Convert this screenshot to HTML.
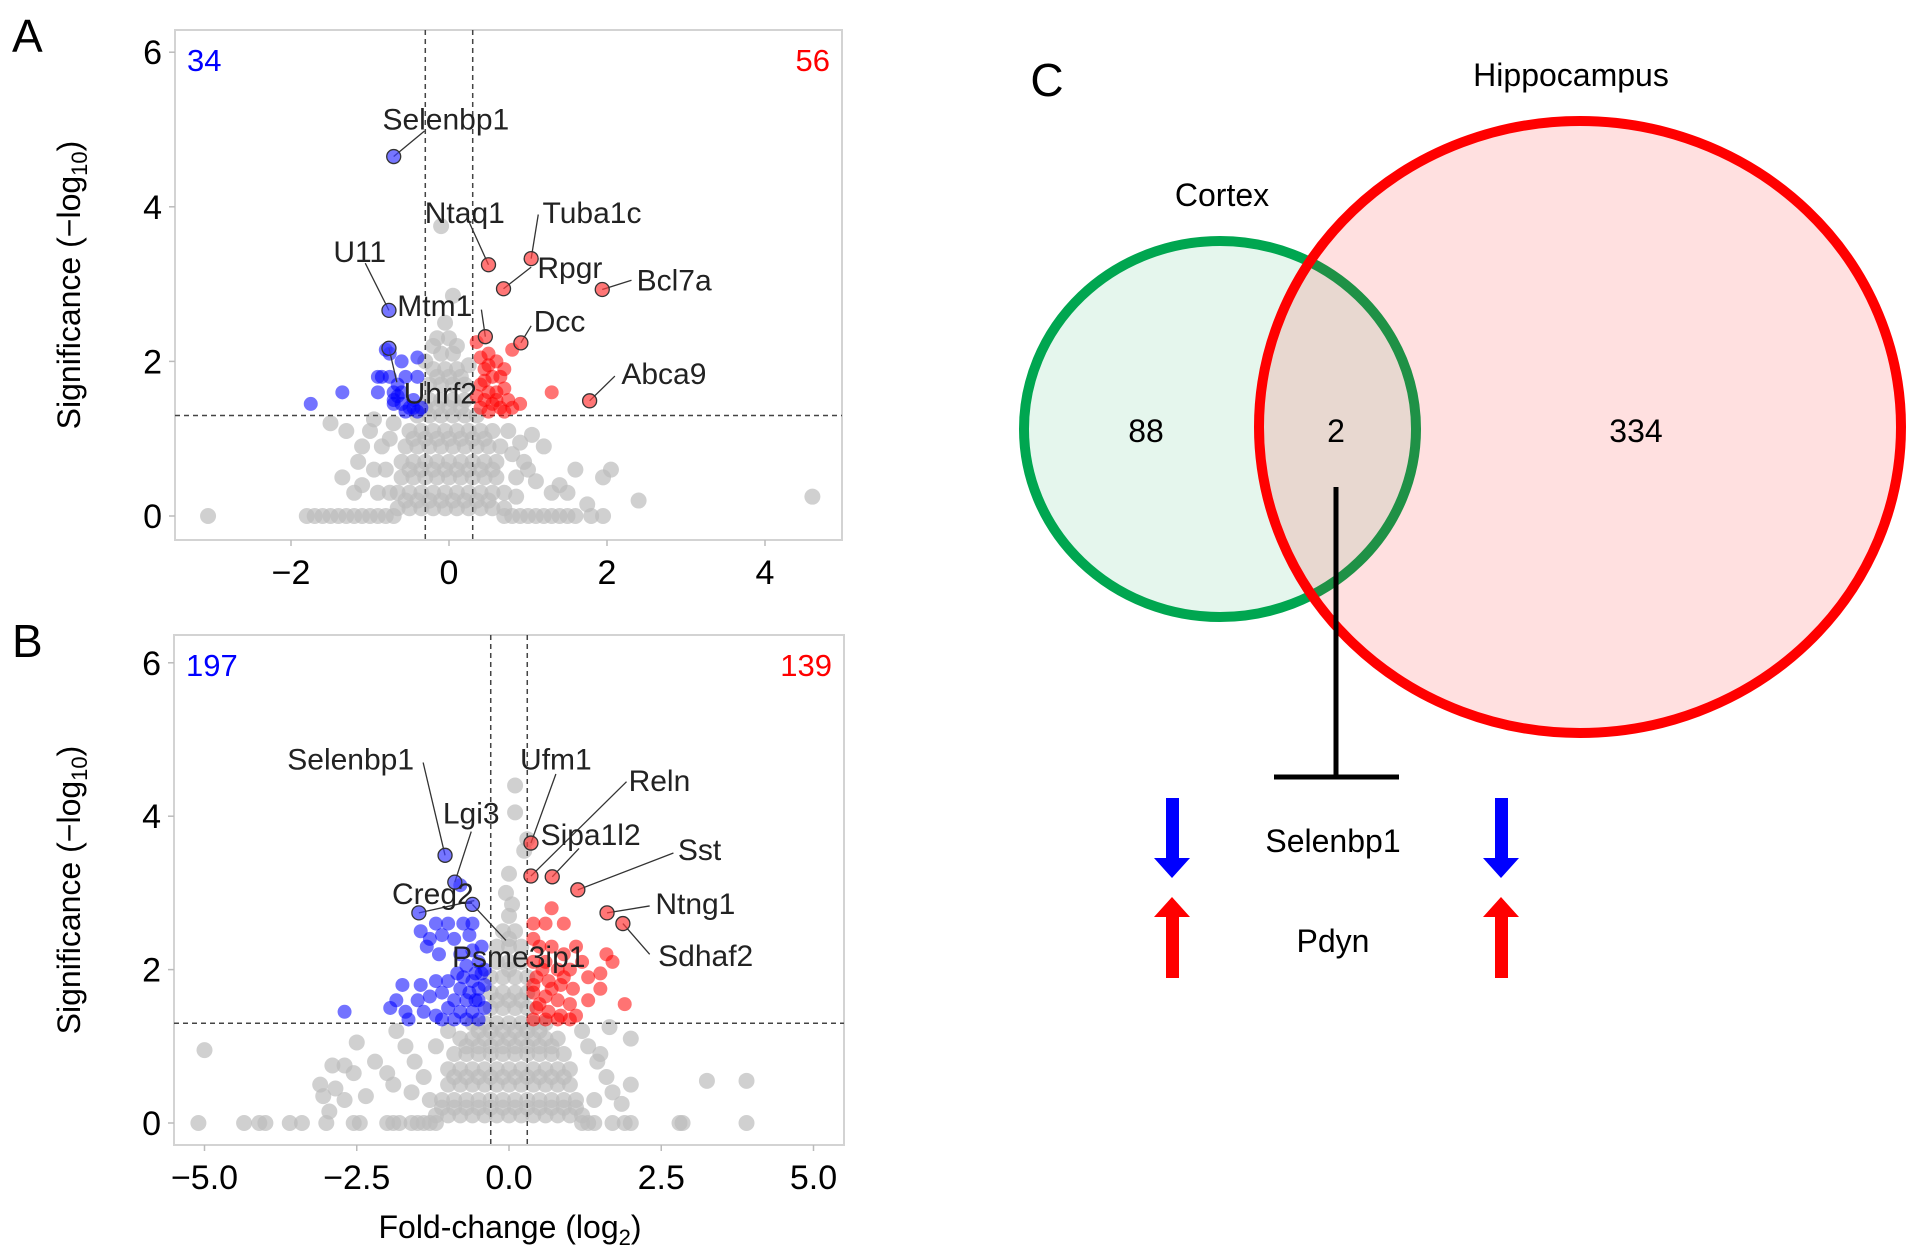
<!DOCTYPE html>
<html><head><meta charset="utf-8"><style>
html,body{margin:0;padding:0;background:#fff;}
svg{display:block;font-family:"Liberation Sans",Arial,sans-serif;}
</style></head><body>
<svg id="fig" width="1914" height="1255" viewBox="0 0 1914 1255" xmlns="http://www.w3.org/2000/svg">
<g id="panelA"></g>
<g id="panelB"></g>
<g id="venn">
  <text x="1047" y="96" font-size="46" text-anchor="middle">C</text>
  <text x="1571" y="86" font-size="32" text-anchor="middle">Hippocampus</text>
  <text x="1222" y="206" font-size="32" text-anchor="middle">Cortex</text>
  <ellipse cx="1220" cy="429" rx="196" ry="188" fill="rgba(0,170,80,0.1)" stroke="#00a650" stroke-width="10"/>
  <ellipse cx="1580" cy="427" rx="321" ry="306" fill="rgba(255,0,0,0.12)" stroke="#ff0000" stroke-width="10"/>
  <text x="1146" y="442" font-size="32" text-anchor="middle">88</text>
  <text x="1336" y="442" font-size="32" text-anchor="middle">2</text>
  <text x="1636" y="442" font-size="32" text-anchor="middle">334</text>
  <line x1="1336" y1="487" x2="1336" y2="779" stroke="#000" stroke-width="5"/>
  <line x1="1274" y1="777" x2="1399" y2="777" stroke="#000" stroke-width="5"/>
  <text x="1333" y="852" font-size="32" text-anchor="middle">Selenbp1</text>
  <text x="1333" y="952" font-size="32" text-anchor="middle">Pdyn</text>
  <polygon points="1166,798 1179,798 1179,858 1190,858 1172,878 1154,858 1166,858" fill="#0000ff"/>
  <polygon points="1495,798 1508,798 1508,858 1519,858 1501,878 1483,858 1495,858" fill="#0000ff"/>
  <polygon points="1166,978 1179,978 1179,917 1190,917 1172,897 1154,917 1166,917" fill="#ff0000"/>
  <polygon points="1495,978 1508,978 1508,917 1519,917 1501,897 1483,917 1495,917" fill="#ff0000"/>
</g>
</svg>
<script>
// ===== Panel A data =====
const aXTicks = [-2, 0, 2, 4];
const aXTickLabels = ["\u22122", "0", "2", "4"];
const aYTicks = [0, 2, 4, 6];
const aYTickLabels = ["0", "2", "4", "6"];
const aDownCount = "34";
const aUpCount = "56";
const aBlue = [[-0.8,2.15],[-0.75,2.1],[-0.6,2.0],[-0.4,2.05],[-0.9,1.8],[-0.85,1.8],[-0.75,1.8],[-0.55,1.8],[-0.4,1.8],[-1.35,1.6],[-1.75,1.45],[-0.9,1.6],[-0.7,1.6],[-0.65,1.55],[-0.7,1.45],[-0.6,1.45],[-0.5,1.4],[-0.4,1.35],[-0.35,1.4],[-0.55,1.35],[-0.7,1.5],[-0.65,1.7],[-0.45,1.5],[-0.6,1.6],[-0.45,1.4]];
const aRed = [[0.4,2.05],[0.5,2.1],[0.6,2.0],[0.7,1.9],[0.45,1.9],[0.55,1.8],[0.65,1.8],[0.8,2.15],[0.4,1.7],[0.5,1.6],[0.6,1.6],[0.7,1.65],[0.75,1.5],[0.45,1.5],[0.55,1.45],[0.65,1.4],[0.4,1.4],[0.8,1.4],[0.9,1.45],[1.3,1.6],[0.5,1.35],[0.7,1.35],[0.35,2.25],[0.45,1.75],[0.6,1.5],[0.35,1.55],[0.5,1.95]];
const aGray = [[-3.05,0],[-1.8,0],[-1.7,0],[-1.6,0],[-1.5,0],[-1.4,0],[-1.3,0],[-1.2,0],[-1.1,0],[-1.0,0],[-0.9,0],[-0.8,0],[-0.7,0],[0.7,0],[0.8,0],[0.9,0],[1.0,0],[1.1,0],[1.2,0],[1.3,0],[1.4,0],[1.5,0],[1.6,0],[1.8,0],[1.95,0],
[-1.5,1.2],[-1.3,1.1],[-1.35,0.5],[-1.1,0.4],[-1.15,0.7],[-1.1,0.9],[-1.0,1.1],[-0.95,0.6],[-0.9,0.3],[-0.85,0.9],[-0.95,1.25],[-1.2,0.3],[-0.75,1.0],[-0.8,0.6],[-0.75,0.3],[-0.7,1.2],
[0.75,1.1],[0.8,0.8],[0.85,0.5],[0.85,0.25],[0.9,0.95],[1.0,0.6],[1.05,1.05],[1.1,0.45],[1.2,0.9],[1.3,0.3],[1.4,0.4],[1.5,0.3],[1.6,0.6],[1.75,0.15],[1.95,0.5],[2.05,0.6],[2.4,0.2],[4.6,0.25],[0.95,0.7],
[-0.65,0.1],[-0.5,0.1],[-0.35,0.1],[-0.2,0.1],[-0.05,0.1],[0.1,0.1],[0.25,0.1],[0.4,0.1],[0.55,0.1],[0.7,0.1],
[-0.65,0.3],[-0.5,0.3],[-0.35,0.3],[-0.2,0.3],[-0.05,0.3],[0.1,0.3],[0.25,0.3],[0.4,0.3],[0.55,0.3],[0.7,0.3],
[-0.6,0.5],[-0.45,0.5],[-0.3,0.5],[-0.15,0.5],[0,0.5],[0.15,0.5],[0.3,0.5],[0.45,0.5],[0.6,0.5],
[-0.6,0.7],[-0.45,0.7],[-0.3,0.7],[-0.15,0.7],[0,0.7],[0.15,0.7],[0.3,0.7],[0.45,0.7],[0.6,0.7],
[-0.55,0.9],[-0.4,0.9],[-0.25,0.9],[-0.1,0.9],[0.05,0.9],[0.2,0.9],[0.35,0.9],[0.5,0.9],[0.65,0.9],
[-0.5,1.1],[-0.35,1.1],[-0.2,1.1],[-0.05,1.1],[0.1,1.1],[0.25,1.1],[0.4,1.1],[0.55,1.1],
[-0.4,1.3],[-0.25,1.3],[-0.1,1.3],[0.05,1.3],[0.2,1.3],[0.35,1.3],
[-0.25,1.5],[-0.1,1.5],[0.05,1.5],[0.2,1.5],
[-0.25,1.7],[-0.1,1.7],[0.05,1.7],[0.2,1.7],
[-0.2,1.9],[-0.05,1.9],[0.1,1.9],[0.25,1.95],
[-0.1,2.1],[0.05,2.1],[-0.15,2.3],[0,2.3],[-0.05,2.5],[0.1,2.2],[-0.3,2.0],[-0.1,3.75],[0.05,2.85],[-0.2,2.2],
[-0.55,0.2],[-0.4,0.2],[-0.25,0.2],[-0.1,0.2],[0.05,0.2],[0.2,0.2],[0.35,0.2],[0.5,0.2],
[-0.5,0.6],[-0.35,0.6],[-0.2,0.6],[-0.05,0.6],[0.1,0.6],[0.25,0.6],[0.4,0.6],[0.55,0.6],
[-0.45,1.0],[-0.3,1.0],[-0.15,1.0],[0,1.0],[0.15,1.0],[0.3,1.0],[0.45,1.0],
[-0.3,1.4],[-0.15,1.4],[0,1.4],[0.15,1.4],[-0.15,1.8],[0,1.8],[0.15,1.8]];
const aGenes = ["Selenbp1","Ntaq1","Tuba1c","U11","Rpgr","Bcl7a","Mtm1","Dcc","Abca9","Uhrf2"];
const aGeneFC = [-0.7,0.5,1.04,-0.76,0.69,1.94,0.46,0.91,1.78,-0.76];
const aGeneSig = [4.65,3.25,3.33,2.66,2.94,2.93,2.32,2.24,1.49,2.17];
const aGeneUp = [false,true,true,false,true,true,true,true,true,false];
const aLabelX = [-0.04,0.2,1.81,-1.13,1.53,2.85,-0.18,1.4,2.72,-0.11];
const aLabelY = [5.14,3.93,3.93,3.43,3.22,3.06,2.73,2.53,1.85,1.6];
const aLineX = [-0.31,0.26,1.13,-1.06,1.04,2.31,0.41,1.04,2.1,-0.66];
const aLineY = [4.98,3.79,3.9,3.27,3.22,3.05,2.67,2.46,1.81,1.73];

// ===== Panel B data =====
const bXTicks = [-5, -2.5, 0, 2.5, 5];
const bXTickLabels = ["\u22125.0", "\u22122.5", "0.0", "2.5", "5.0"];
const bYTicks = [0, 2, 4, 6];
const bYTickLabels = ["0", "2", "4", "6"];
const bDownCount = "197";
const bUpCount = "139";
const bBlue = [[-1.2,2.6],[-1.0,2.6],[-0.75,2.6],[-0.6,2.6],[-1.45,2.5],[-1.3,2.4],[-1.1,2.45],[-0.9,2.4],[-1.35,2.3],[-1.15,2.2],[-0.8,2.2],[-0.6,2.25],[-0.7,2.05],[-0.5,2.1],[-0.45,1.95],[-0.85,1.95],[-1.0,1.85],[-0.6,1.85],[-0.8,1.75],[-0.5,1.75],[-1.2,1.85],[-1.45,1.8],[-1.75,1.8],[-1.85,1.6],[-1.95,1.5],[-1.5,1.6],[-1.3,1.65],[-1.1,1.7],[-0.9,1.6],[-0.7,1.6],[-0.5,1.6],[-0.4,1.5],[-0.6,1.45],[-0.8,1.45],[-1.0,1.5],[-1.2,1.4],[-1.4,1.45],[-1.7,1.45],[-2.7,1.45],[-1.65,1.35],[-1.1,1.35],[-0.9,1.35],[-0.7,1.35],[-0.5,1.35],[-0.4,1.8],[-0.45,2.3],[-0.55,1.6],[-0.65,1.7],[-0.75,1.9],[-0.8,3.1],[-0.65,2.45],[-0.4,2.0],[-0.55,1.95]];
const bRed = [[0.7,2.8],[0.4,2.6],[0.6,2.6],[0.9,2.6],[1.6,2.2],[1.5,1.95],[1.7,2.1],[1.3,1.9],[0.4,2.4],[0.5,2.3],[0.7,2.3],[0.9,2.2],[1.1,2.3],[0.4,2.1],[0.6,2.1],[0.8,2.0],[1.0,2.0],[1.2,2.1],[0.45,1.9],[0.65,1.85],[0.85,1.8],[1.05,1.75],[1.5,1.75],[0.4,1.7],[0.6,1.65],[0.8,1.6],[1.0,1.55],[1.3,1.6],[1.9,1.55],[0.45,1.5],[0.65,1.45],[0.85,1.4],[1.1,1.4],[0.4,1.35],[0.6,1.35],[0.8,1.35],[1.0,1.35],[0.5,1.55],[0.7,1.75],[0.55,2.0],[0.4,1.8],[0.9,1.9]];
const bGray = [[-5.0,0.95],[-3.1,0.5],[-3.05,0.35],[-2.85,0.45],[-2.7,0.3],[-2.95,0.15],[-2.9,0.75],[-2.7,0.75],[-2.55,0.65],[-2.35,0.35],[-2.5,1.05],[-2.2,0.8],[-2.0,0.65],[-1.9,0.5],[-1.85,1.2],[-1.7,1.0],[-1.55,0.8],[-1.4,0.6],[-1.6,0.4],[-1.3,0.3],[-1.2,1.0],[-1.0,1.2],[1.2,1.2],[1.3,1.0],[1.45,0.8],[1.6,0.6],[1.7,0.4],[1.85,0.25],[2.0,0.5],[1.4,0.3],[2.0,1.1],[1.65,1.25],[3.25,0.55],[3.9,0.55],[1.5,0.9],
[-5.1,0],[-4.35,0],[-4.1,0],[-4.0,0],[-3.6,0],[-3.4,0],[-3.0,0],[-2.55,0],[-2.45,0],[-2.0,0],[-1.9,0],[-1.8,0],[-1.6,0],[-1.5,0],[-1.4,0],[-1.3,0],[-1.2,0],[1.2,0],[1.3,0],[1.4,0],[1.7,0],[1.9,0],[2.0,0],[2.8,0],[2.85,0],[3.9,0],
[-1.2,0.1],[-1.0,0.1],[-0.8,0.1],[-0.6,0.1],[-0.4,0.1],[-0.2,0.1],[0,0.1],[0.2,0.1],[0.4,0.1],[0.6,0.1],[0.8,0.1],[1.0,0.1],[1.2,0.1],
[-1.1,0.3],[-0.9,0.3],[-0.7,0.3],[-0.5,0.3],[-0.3,0.3],[-0.1,0.3],[0.1,0.3],[0.3,0.3],[0.5,0.3],[0.7,0.3],[0.9,0.3],[1.1,0.3],
[-1.0,0.5],[-0.8,0.5],[-0.6,0.5],[-0.4,0.5],[-0.2,0.5],[0,0.5],[0.2,0.5],[0.4,0.5],[0.6,0.5],[0.8,0.5],[1.0,0.5],
[-1.0,0.7],[-0.8,0.7],[-0.6,0.7],[-0.4,0.7],[-0.2,0.7],[0,0.7],[0.2,0.7],[0.4,0.7],[0.6,0.7],[0.8,0.7],[1.0,0.7],
[-0.9,0.9],[-0.7,0.9],[-0.5,0.9],[-0.3,0.9],[-0.1,0.9],[0.1,0.9],[0.3,0.9],[0.5,0.9],[0.7,0.9],[0.9,0.9],
[-0.8,1.1],[-0.6,1.1],[-0.4,1.1],[-0.2,1.1],[0,1.1],[0.2,1.1],[0.4,1.1],[0.6,1.1],[0.8,1.1],
[-0.6,1.3],[-0.4,1.3],[-0.2,1.3],[0,1.3],[0.2,1.3],[0.4,1.3],[0.6,1.3],
[-0.3,1.5],[-0.1,1.5],[0.1,1.5],[0.3,1.5],[-0.3,1.7],[-0.1,1.7],[0.1,1.7],[0.3,1.7],
[-0.3,1.9],[-0.1,1.9],[0.1,1.9],[0.3,1.9],[-0.2,2.1],[0,2.1],[0.2,2.1],[-0.2,2.3],[0,2.3],[0.2,2.3],
[-0.1,2.5],[0.1,2.5],[0,2.7],[0.05,2.85],[-0.05,3.0],[0,3.25],[0.25,3.55],[0.3,3.7],[0.1,4.05],[0.1,4.4],
[-1.1,0.2],[-0.9,0.2],[-0.7,0.2],[-0.5,0.2],[-0.3,0.2],[-0.1,0.2],[0.1,0.2],[0.3,0.2],[0.5,0.2],[0.7,0.2],[0.9,0.2],[1.1,0.2],
[-0.9,0.6],[-0.7,0.6],[-0.5,0.6],[-0.3,0.6],[-0.1,0.6],[0.1,0.6],[0.3,0.6],[0.5,0.6],[0.7,0.6],[0.9,0.6],
[-0.7,1.0],[-0.5,1.0],[-0.3,1.0],[-0.1,1.0],[0.1,1.0],[0.3,1.0],[0.5,1.0],[0.7,1.0],
[-0.5,1.2],[-0.3,1.2],[-0.1,1.2],[0.1,1.2],[0.3,1.2],[0.5,1.2],[-0.2,1.6],[0,1.6],[0.2,1.6],[0,2.0],[0,2.4]];
const bGenes = ["Selenbp1","Lgi3","Creg2","Psme3ip1","Ufm1","Reln","Sipa1l2","Sst","Ntng1","Sdhaf2"];
const bGeneFC = [-1.05,-0.89,-1.48,-0.6,0.36,0.36,0.71,1.13,1.61,1.87];
const bGeneSig = [3.49,3.14,2.74,2.85,3.65,3.22,3.21,3.04,2.74,2.6];
const bGeneUp = [false,false,false,false,true,true,true,true,true,true];
const bLabelX = [-2.6,-0.62,-1.25,0.16,0.77,2.47,1.34,3.13,3.06,3.23];
const bLabelY = [4.75,4.05,3.0,2.18,4.75,4.47,3.77,3.57,2.87,2.19];
const bLineX = [-1.41,-0.62,-0.57,-0.05,0.77,1.93,1.15,2.7,2.31,2.31];
const bLineY = [4.7,3.8,2.9,2.38,4.55,4.45,3.58,3.52,2.83,2.2];

const NS = "http://www.w3.org/2000/svg";
function mk(parent, tag, attrs, text){
  const e = document.createElementNS(NS, tag);
  for (const k in attrs) e.setAttribute(k, attrs[k]);
  if (text !== undefined) e.textContent = text;
  parent.appendChild(e);
  return e;
}

function drawPanel(g, cfg){
  const xs = v => cfg.x0 + cfg.xu * v;
  const ys = v => cfg.y0 - cfg.yu * v;
  const box = mk(g, "rect", {x:cfg.left, y:cfg.top, width:cfg.right-cfg.left, height:cfg.bottom-cfg.top, fill:"#fff", stroke:"#d3d3d3", "stroke-width":2});
  
  
  cfg.xt.forEach((t,i)=>{
    const l = mk(g, "line", {x1:xs(t), x2:xs(t), y1:cfg.bottom, y2:cfg.bottom+6, stroke:"#bbb", "stroke-width":1.5});
    
    
    const tx = mk(g, "text", {x:xs(t), y:cfg.bottom+44, "font-size":34, "text-anchor":"middle", fill:"#000"}, cfg.xtl[i]);
    
    
  });
  cfg.yt.forEach((t,i)=>{
    const l = mk(g, "line", {x1:cfg.left-6, x2:cfg.left, y1:ys(t), y2:ys(t), stroke:"#bbb", "stroke-width":1.5});
    
    
    const tx = mk(g, "text", {x:cfg.left-13, y:ys(t)+12, "font-size":34, "text-anchor":"end", fill:"#000"}, cfg.ytl[i]);
    
    
  });
  cfg.gray.forEach(d=>{
    const c = mk(g, "circle", {cx:xs(d[0]), cy:ys(d[1]), r:8, fill:"rgba(188,188,188,0.7)"});
    
    
  });
  [-0.3, 0.3].forEach(v=>{
    const l = mk(g, "line", {x1:xs(v), x2:xs(v), y1:cfg.top, y2:cfg.bottom, stroke:"#444", "stroke-width":1.5, "stroke-dasharray":"5,4"});
    
    
  });
  const h = mk(g, "line", {x1:cfg.left, x2:cfg.right, y1:ys(1.3), y2:ys(1.3), stroke:"#444", "stroke-width":1.5, "stroke-dasharray":"5,4"});
  
  
  cfg.blue.forEach(d=>{
    const c = mk(g, "circle", {cx:xs(d[0]), cy:ys(d[1]), r:7, fill:"rgba(0,0,255,0.55)"});
    
    
  });
  cfg.red.forEach(d=>{
    const c = mk(g, "circle", {cx:xs(d[0]), cy:ys(d[1]), r:7, fill:"rgba(255,0,0,0.55)"});
    
    
  });
  cfg.genes.forEach((name,i)=>{
    const px = xs(cfg.gfc[i]), py = ys(cfg.gsig[i]);
    const ln = mk(g, "line", {x1:xs(cfg.lx[i]), y1:ys(cfg.ly[i]), x2:px, y2:py, stroke:"#333", "stroke-width":1.3});
    
    
    const c = mk(g, "circle", {cx:px, cy:py, r:7, fill:cfg.gup[i] ? "rgba(255,60,60,0.7)" : "rgba(60,60,255,0.7)", stroke:"#333", "stroke-width":1.3});
    
    
    const t = mk(g, "text", {x:xs(cfg.labx[i]), y:ys(cfg.laby[i])+11, "font-size":30, "text-anchor":"middle", fill:"#222", textLength:"", lengthAdjust:"spacingAndGlyphs"}, name);
    t.removeAttribute('textLength');
    
    
  });
  const dc = mk(g, "text", {x:cfg.left+12, y:cfg.top+41, "font-size":31, fill:"#0000ff"}, cfg.down);
  
  
  const uc = mk(g, "text", {x:cfg.right-12, y:cfg.top+41, "font-size":31, fill:"#ff0000", "text-anchor":"end"}, cfg.up);
  
  
  const cy = (cfg.top + cfg.bottom)/2;
  const yt = mk(g, "text", {x:0, y:0, "font-size":32, "text-anchor":"middle", transform:`translate(80,${cy}) rotate(-90)`});
  
  
  mk(yt, "tspan", {}, "Significance (\u2212log");
  mk(yt, "tspan", {"font-size":22, dy:7}, "10");
  mk(yt, "tspan", {dy:-7}, ")");
  const pl = mk(g, "text", {x:12, y:cfg.top+22, "font-size":46}, cfg.letter);
  
  
}

drawPanel(document.getElementById("panelA"), {
  p:"a", letter:"A", left:175, right:842, top:30, bottom:540, x0:449, xu:79, y0:516, yu:77.3,
  xt:aXTicks, xtl:aXTickLabels, yt:aYTicks, ytl:aYTickLabels, gray:aGray, blue:aBlue, red:aRed,
  genes:aGenes, gfc:aGeneFC, gsig:aGeneSig, gup:aGeneUp, labx:aLabelX, laby:aLabelY, lx:aLineX, ly:aLineY,
  down:aDownCount, up:aUpCount});
drawPanel(document.getElementById("panelB"), {
  p:"b", letter:"B", left:174, right:844, top:635, bottom:1145, x0:509, xu:60.9, y0:1123, yu:76.7,
  xt:bXTicks, xtl:bXTickLabels, yt:bYTicks, ytl:bYTickLabels, gray:bGray, blue:bBlue, red:bRed,
  genes:bGenes, gfc:bGeneFC, gsig:bGeneSig, gup:bGeneUp, labx:bLabelX, laby:bLabelY, lx:bLineX, ly:bLineY,
  down:bDownCount, up:bUpCount});

const xtitle = mk(document.getElementById("panelB"), "text", {x:510, y:1238, "font-size":32, "text-anchor":"middle"});


mk(xtitle, "tspan", {}, "Fold-change (log");
mk(xtitle, "tspan", {"font-size":22, dy:7}, "2");
mk(xtitle, "tspan", {dy:-7}, ")");
</script>
</body></html>
